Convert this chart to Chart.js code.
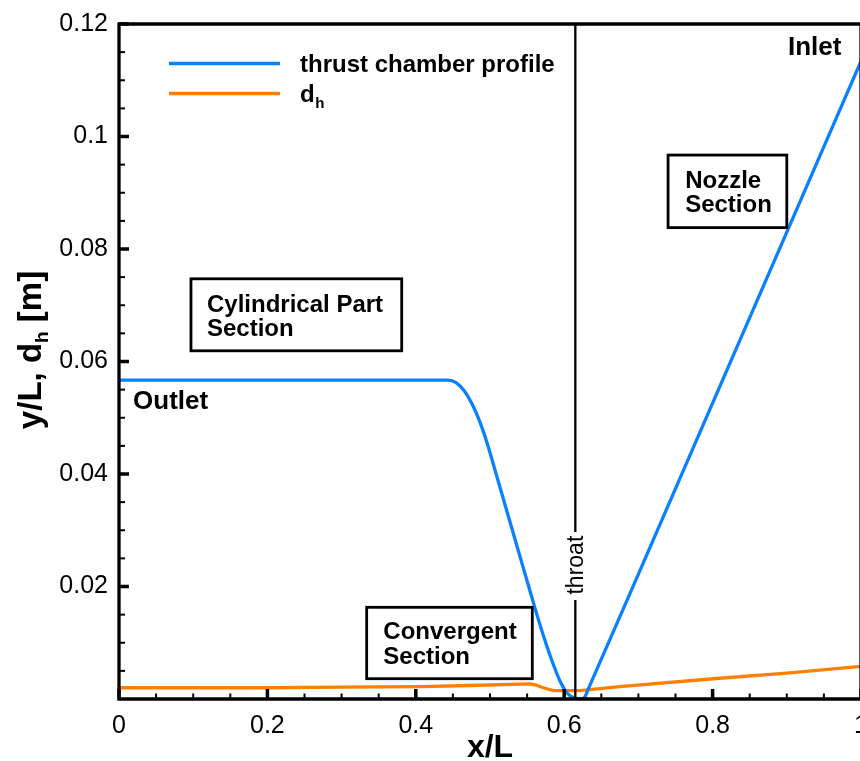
<!DOCTYPE html>
<html>
<head>
<meta charset="utf-8">
<style>
  html, body { margin: 0; padding: 0; background: #fff; overflow: hidden; }
  #wrap { width: 864px; height: 761px; }
</style>
<script src="https://cdn.jsdelivr.net/npm/chart.js@4.4.0/dist/chart.umd.min.js"></script>
</head>
<body>
<div id="wrap"><canvas id="c" width="864" height="761"></canvas></div>
<script>
// Thrust chamber wall profile (y/L versus x/L), outlet at x/L = 0, inlet at x/L = 1
const profileX = [0, 0.1, 0.2, 0.3, 0.4, 0.4434, 0.4542, 0.4650, 0.4757, 0.4865, 0.4973, 0.5081, 0.5189,
                  0.5296, 0.5404, 0.5512, 0.5620, 0.5728, 0.5836, 0.5943, 0.6051, 0.6159, 0.6215,
                  0.627, 0.6325, 0.70, 0.80, 0.90, 1.0];
const profileY = [0.0567, 0.0567, 0.0567, 0.0567, 0.0567, 0.0567, 0.05625, 0.05483, 0.05248, 0.04921, 0.04498, 0.04007, 0.03516,
                  0.03026, 0.02535, 0.02044, 0.01554, 0.01093, 0.00676, 0.00320, 0.00089, 0.0001, 0.0,
                  0.0002, 0.0018, 0.0222, 0.0526, 0.0830, 0.1134];

// Hydraulic diameter of the cooling channel [m]
const dhX = [0, 0.1, 0.2, 0.3, 0.406, 0.473, 0.554, 0.561, 0.572, 0.585, 0.621, 0.675, 0.801, 0.9, 1.0];
const dhY = [0.0020, 0.0020, 0.0020, 0.0021, 0.0022, 0.0024, 0.0027, 0.0025, 0.0020, 0.0015, 0.0015, 0.0022, 0.0036, 0.0046, 0.0058];

const seriesNames = ['thrust chamber profile', 'd'];
const xTicks = [0, 0.2, 0.4, 0.6, 0.8, 1];
const xTickLabels = ['0', '0.2', '0.4', '0.6', '0.8', '1'];
const yTicks = [0.02, 0.04, 0.06, 0.08, 0.1, 0.12];
const yTickLabels = ['0.02', '0.04', '0.06', '0.08', '0.1', '0.12'];
const throatX = 0.615;

const BLUE = '#0a80ff';
const ORANGE = '#ff8000';
const FONT = '"Liberation Sans", Arial, Helvetica, sans-serif';

// Section labels, anchored in data coordinates
const boxes = [
  { lines: ['Cylindrical Part', 'Section'], x0: 0.097, x1: 0.381, yTop: 0.0747, yBot: 0.0619, tx: 0.1186, base: [0.06885, 0.06459] },
  { lines: ['Nozzle', 'Section'],           x0: 0.740, x1: 0.900, yTop: 0.0967, yBot: 0.0838, tx: 0.763,  base: [0.0909, 0.0865] },
  { lines: ['Convergent', 'Section'],       x0: 0.3338, x1: 0.5570, yTop: 0.0163, yBot: 0.00361, tx: 0.3562, base: [0.01061, 0.00617] }
];
const plainLabels = [
  { text: 'Outlet', x: 0.0189, y: 0.0515 },
  { text: 'Inlet',  x: 0.9016, y: 0.1145 }
];

const pts = (xs, ys) => xs.map((x, i) => ({ x, y: ys[i] }));

const decorations = {
  id: 'decorations',
  afterDatasetsDraw(chart) {
    const { ctx, chartArea: a, scales: { x, y } } = chart;
    ctx.save();

    // throat marker: vertical line with rotated caption
    const tx = x.getPixelForValue(throatX);
    ctx.strokeStyle = '#000';
    ctx.lineWidth = 2.3;
    ctx.beginPath();
    ctx.moveTo(tx, a.top); ctx.lineTo(tx, y.getPixelForValue(0.0297));
    ctx.moveTo(tx, y.getPixelForValue(0.0176)); ctx.lineTo(tx, a.bottom);
    ctx.stroke();
    ctx.save();
    ctx.translate(tx, y.getPixelForValue(0.0238));
    ctx.rotate(-Math.PI / 2);
    ctx.fillStyle = '#000';
    ctx.font = `23px ${FONT}`;
    ctx.textAlign = 'center';
    ctx.textBaseline = 'middle';
    ctx.fillText('throat', 0, 1);
    ctx.restore();

    // boxed section labels
    ctx.font = `bold 24px ${FONT}`;
    ctx.textAlign = 'left';
    ctx.textBaseline = 'alphabetic';
    boxes.forEach(b => {
      const L = x.getPixelForValue(b.x0), R = x.getPixelForValue(b.x1);
      const T = y.getPixelForValue(b.yTop), B = y.getPixelForValue(b.yBot);
      ctx.fillStyle = '#fff';
      ctx.fillRect(L, T, R - L, B - T);
      ctx.lineWidth = 2.8;
      ctx.strokeStyle = '#000';
      ctx.strokeRect(L, T, R - L, B - T);
      ctx.fillStyle = '#000';
      b.lines.forEach((t, i) => ctx.fillText(t, x.getPixelForValue(b.tx), y.getPixelForValue(b.base[i])));
    });
    ctx.font = `bold 26px ${FONT}`;
    plainLabels.forEach(l => ctx.fillText(l.text, x.getPixelForValue(l.x), y.getPixelForValue(l.y)));

    // legend
    const lx0 = a.left + 50, lx1 = a.left + 161, ltx = a.left + 181;
    const rows = [{ c: BLUE, yy: a.top + 39.5 }, { c: ORANGE, yy: a.top + 69.5 }];
    rows.forEach(r => {
      ctx.strokeStyle = r.c; ctx.lineWidth = 3.6;
      ctx.beginPath(); ctx.moveTo(lx0, r.yy); ctx.lineTo(lx1, r.yy); ctx.stroke();
    });
    ctx.fillStyle = '#000';
    ctx.font = `bold 24px ${FONT}`;
    ctx.fillText(seriesNames[0], ltx, a.top + 47.5);
    ctx.fillText(seriesNames[1], ltx, a.top + 77.5);
    const dw = ctx.measureText(seriesNames[1]).width;
    ctx.font = `bold 15px ${FONT}`;
    ctx.fillText('h', ltx + dw + 0.5, a.top + 84);

    // frame
    ctx.strokeStyle = '#000';
    ctx.lineWidth = 3.3;
    ctx.lineCap = 'square';
    ctx.beginPath();
    ctx.moveTo(a.left, a.top); ctx.lineTo(a.right, a.top);
    ctx.lineTo(a.right, a.bottom); ctx.lineTo(a.left, a.bottom); ctx.closePath();
    ctx.stroke();
    ctx.lineCap = 'butt';

    // inward tick marks, major and minor
    const yTick = (v, len, w) => {
      const p = y.getPixelForValue(v);
      ctx.lineWidth = w; ctx.beginPath(); ctx.moveTo(a.left, p); ctx.lineTo(a.left + len, p); ctx.stroke();
    };
    const xTick = (v, len, w) => {
      const p = x.getPixelForValue(v);
      ctx.lineWidth = w; ctx.beginPath(); ctx.moveTo(p, a.bottom); ctx.lineTo(p, a.bottom - len); ctx.stroke();
    };
    for (let i = 1; i < 24; i++) { if (i % 4) yTick(i * 0.005, 6, 2); }
    yTicks.forEach(v => yTick(v, 10, 3.5));
    for (let i = 1; i < 20; i++) { if (i % 4) xTick(i * 0.05, 5.5, 2); }
    xTicks.forEach(v => xTick(v, 10, 3.5));

    // axis titles
    ctx.fillStyle = '#000';
    ctx.font = `bold 32px ${FONT}`;
    ctx.textAlign = 'center';
    ctx.fillText('x/L', (a.left + a.right) / 2, 757);

    ctx.save();
    ctx.translate(41, 350);
    ctx.rotate(-Math.PI / 2);
    ctx.textAlign = 'left';
    const big = `bold 33px ${FONT}`, small = `bold 19px ${FONT}`;
    ctx.font = big;
    const w1 = ctx.measureText('y/L, d').width, w3 = ctx.measureText(' [m]').width;
    ctx.font = small;
    const w2 = ctx.measureText('h').width;
    let sx = -(w1 + w2 + w3) / 2;
    ctx.font = big; ctx.fillText('y/L, d', sx, 0); sx += w1;
    ctx.font = small; ctx.fillText('h', sx, 7); sx += w2;
    ctx.font = big; ctx.fillText(' [m]', sx, 0);
    ctx.restore();

    ctx.restore();
  }
};

new Chart(document.getElementById('c'), {
  type: 'line',
  data: {
    datasets: [
      { label: seriesNames[0], data: pts(profileX, profileY), borderColor: BLUE, borderWidth: 3.3,
        cubicInterpolationMode: 'monotone', pointRadius: 0, fill: false },
      { label: seriesNames[1], data: pts(dhX, dhY), borderColor: ORANGE, borderWidth: 3.3,
        tension: 0, pointRadius: 0, fill: false }
    ]
  },
  options: {
    responsive: false,
    animation: false,
    layout: { padding: { top: 24, right: 3, left: 0, bottom: 0 } },
    plugins: { legend: { display: false }, tooltip: { enabled: false } },
    scales: {
      x: {
        type: 'linear', min: 0, max: 1,
        grid: { display: false, drawTicks: false },
        border: { display: false },
        afterBuildTicks(s) { s.ticks = xTicks.map(v => ({ value: v })); },
        afterFit(s) { s.height = 62; s.paddingLeft = 0; s.paddingRight = 0; },
        ticks: {
          padding: 12, color: '#000', maxRotation: 0, autoSkip: false,
          font: { family: FONT, size: 25 },
          callback: (v) => xTickLabels[xTicks.indexOf(v)] ?? ''
        }
      },
      y: {
        type: 'linear', min: 0, max: 0.12,
        grid: { display: false, drawTicks: false },
        border: { display: false },
        afterBuildTicks(s) { s.ticks = yTicks.map(v => ({ value: v })); },
        afterFit(s) { s.width = 119; s.paddingTop = 0; s.paddingBottom = 0; },
        ticks: {
          padding: 11, color: '#000', autoSkip: false,
          font: { family: FONT, size: 25 },
          callback: (v) => yTickLabels[yTicks.indexOf(v)] ?? ''
        }
      }
    }
  },
  plugins: [decorations]
});
</script>
</body>
</html>
